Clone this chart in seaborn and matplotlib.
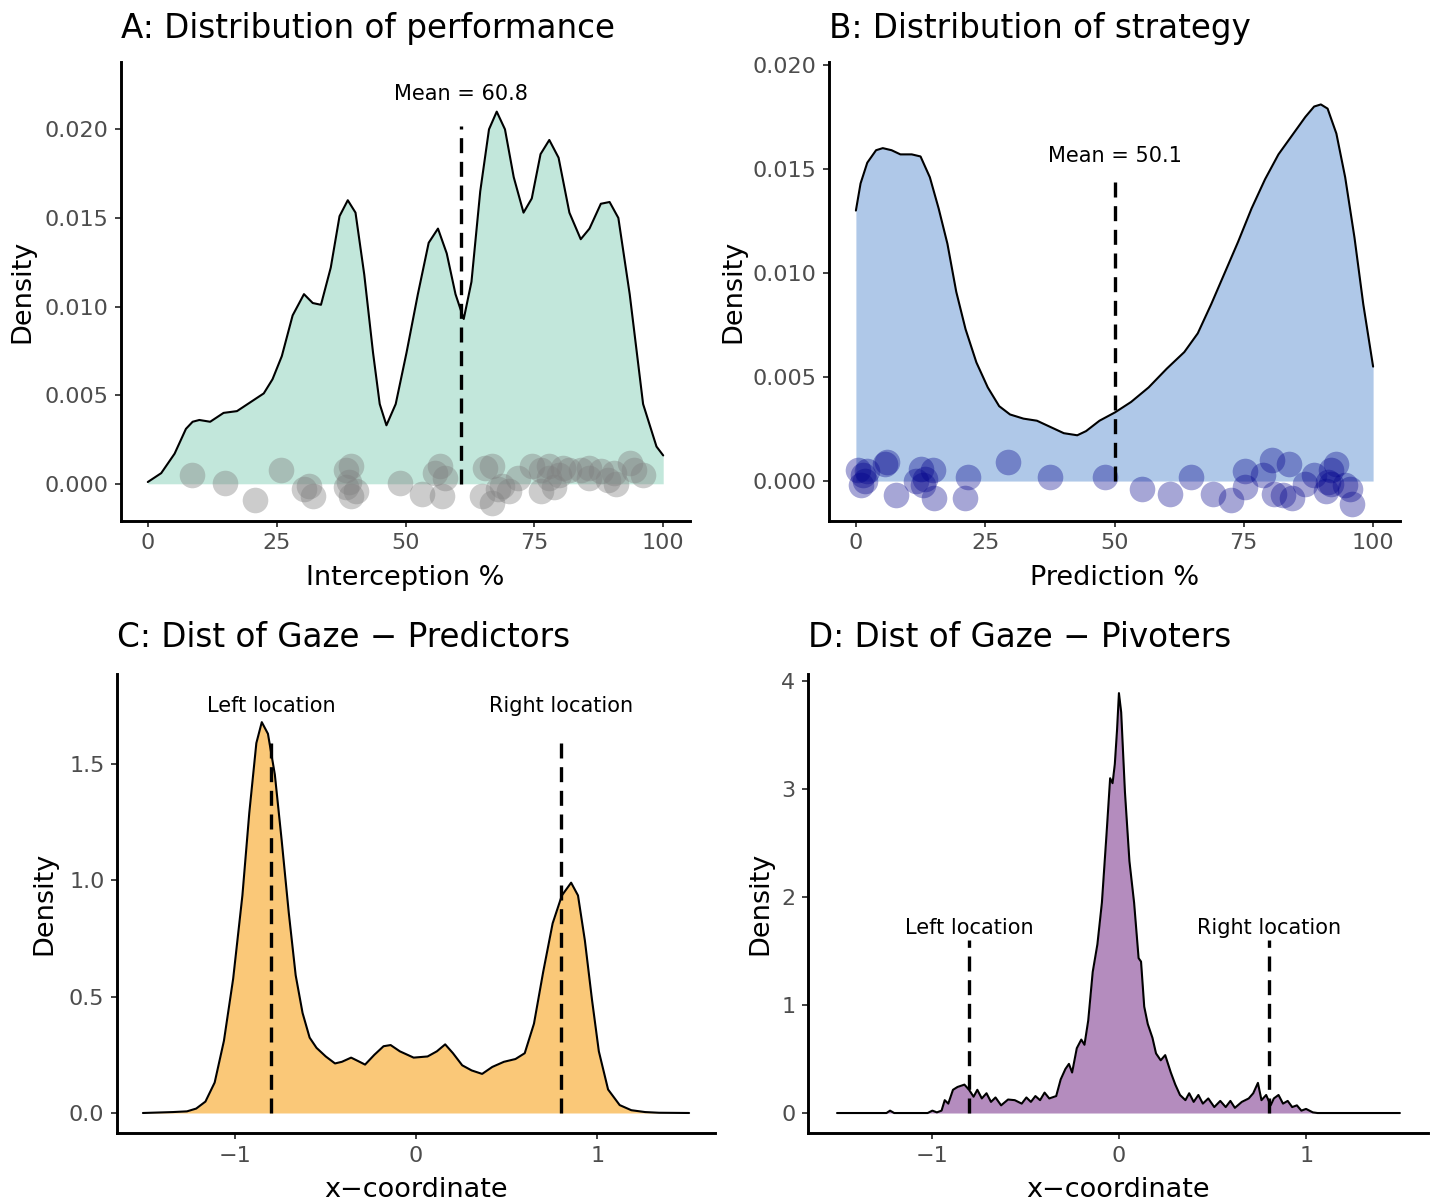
import numpy as np
import pandas as pd
import matplotlib
matplotlib.use("Agg")
import matplotlib.pyplot as plt
import seaborn as sns

# ---------------- Panel A: performance ----------------
perf_x = [0, 2.6, 5.2, 7.4, 8.7, 10, 12.1, 14.7, 17.3, 19.9, 22.5, 24.2, 26, 28.1, 30.3, 32,
          33.6, 35.5, 37.2, 38.8, 40.3, 42, 43.7, 45, 46.3, 48.1, 50.2, 52.4, 54.5, 56.3, 58,
          59.7, 61.3, 62.8, 64.5, 66.2, 67.7, 69.3, 71, 72.9, 74.5, 76.2, 77.9, 79.7, 81.8, 84,
          85.7, 87.9, 89.6, 91.3, 93.5, 96.1, 98.7, 100]
perf_density = [0.0001, 0.0006, 0.0017, 0.0031, 0.0035, 0.0036, 0.0035, 0.0040, 0.0041, 0.0046,
                0.0051, 0.0059, 0.0072, 0.0095, 0.0107, 0.0102, 0.0101, 0.0122, 0.0151, 0.0160,
                0.0153, 0.0118, 0.0074, 0.0045, 0.0033, 0.0045, 0.0074, 0.0107, 0.0136, 0.0144,
                0.0130, 0.0107, 0.0093, 0.0114, 0.0165, 0.0200, 0.0210, 0.0200, 0.0173, 0.0153,
                0.0161, 0.0186, 0.0194, 0.0184, 0.0153, 0.0138, 0.0144, 0.0158, 0.0159, 0.0150,
                0.0107, 0.0045, 0.0021, 0.0016]
perf_pts_x = [8.5, 15, 20.8, 25.8, 30.3, 31.2, 32, 38.5, 39.4, 38.5, 39.4, 40.3, 39, 49, 53.2,
              56.7, 55.8, 57.1, 57.6, 64.9, 65.4, 66.7, 66.7, 67.9, 68.8, 70.1, 71.9, 74.5, 76.2,
              77.9, 76.2, 77.9, 78.8, 79.7, 81.8, 84, 85.7, 87.9, 89.2, 90.5, 90.9, 93.5, 94.4,
              96.1, 85.7, 80.6]
perf_pts_y = [0.0005, 0.00004, -0.0009, 0.0008, -0.0003, -0.0001, -0.0007, 0.0008, 0.0010, -0.0002,
              -0.0007, -0.0004, 0.0001, 0.00004, -0.0006, 0.0010, 0.0006, -0.0007, 0.0003, -0.0007,
              0.0009, 0.0010, -0.0011, -0.0003, -0.0001, -0.0004, 0.0003, 0.0010, 0.0008, 0.0010,
              -0.0004, 0.0003, -0.0002, 0.0005, 0.0008, 0.0008, 0.0003, 0.0007, 0.0002, 0.0006,
              0.0, 0.0012, 0.0008, 0.0005, 0.0009, 0.0009]
perf_mean = 60.8
perf_xticks = [0, 25, 50, 75, 100]
perf_yticks = [0.000, 0.005, 0.010, 0.015, 0.020]

# ---------------- Panel B: strategy ----------------
strat_x = [0, 0.9, 2.2, 3.9, 5.2, 6.9, 8.6, 10.8, 12.5, 14.3, 16, 17.7, 19.4, 21.2, 23.3, 25.5,
           27.7, 29.8, 32.4, 35, 37.6, 40.2, 42.8, 44.5, 47.1, 50.1, 53.2, 56.6, 60.1, 63.5, 66.1,
           68.7, 71.3, 73.9, 76.5, 79.1, 81.7, 84.3, 86.9, 88.6, 89.9, 91.2, 92.9, 94.6, 96.4,
           98.1, 100]
strat_density = [0.0130, 0.0143, 0.0153, 0.0159, 0.0160, 0.0159, 0.0157, 0.0157, 0.0156, 0.0146,
                 0.0131, 0.0114, 0.0091, 0.0073, 0.0057, 0.0045, 0.0036, 0.0032, 0.0030, 0.0029,
                 0.0026, 0.0023, 0.0022, 0.0024, 0.0029, 0.0033, 0.0038, 0.0045, 0.0054, 0.0062,
                 0.0071, 0.0085, 0.0100, 0.0115, 0.0131, 0.0145, 0.0157, 0.0166, 0.0175, 0.0180,
                 0.0181, 0.0179, 0.0167, 0.0146, 0.0117, 0.0085, 0.0055]
strat_pts_x = [0.4, 1.3, 2.2, 0.9, 1.7, 5.6, 6.1, 7.8, 11.7, 12.5, 13.4, 15, 15.1, 13, 21, 21.6,
               29.4, 37.6, 48.1, 55.3, 60.8, 64.8, 69.1, 72.6, 75.2, 75.2, 78.7, 80.4, 80.8, 82.5,
               83.8, 84.3, 86.9, 88.6, 90.8, 91.2, 91.8, 92.9, 94.6, 95.5, 95.9, 91.8]
strat_pts_y = [0.00055, 0.0003, 0.00046, -0.0002, 0.0, 0.0008, 0.0009, -0.00065, 0.0, 0.0006,
               0.0001, 0.00055, -0.0008, -0.0002, -0.0008, 0.0002, 0.0009, 0.0002, 0.0002, -0.0004,
               -0.0006, 0.0002, -0.0006, -0.0009, 0.00046, -0.0003, 0.0003, 0.0010, -0.0006,
               -0.00065, 0.0008, -0.0008, -0.00015, 0.0003, -0.0005, -0.00005, 0.00055, 0.0008,
               -0.0002, -0.0004, -0.0011, -0.00015]
strat_mean = 50.1
strat_xticks = [0, 25, 50, 75, 100]
strat_yticks = [0.000, 0.005, 0.010, 0.015, 0.020]

# ---------------- Panel C: gaze, predictors ----------------
pred_x = [-1.507, -1.341, -1.264, -1.213, -1.162, -1.111, -1.06, -1.009, -0.958, -0.92, -0.881,
          -0.851, -0.817, -0.779, -0.741, -0.702, -0.664, -0.626, -0.587, -0.549, -0.498, -0.447,
          -0.409, -0.358, -0.319, -0.281, -0.23, -0.179, -0.14, -0.089, -0.013, 0.064, 0.115,
          0.161, 0.204, 0.255, 0.307, 0.365, 0.421, 0.485, 0.549, 0.6, 0.651, 0.702, 0.754,
          0.805, 0.856, 0.894, 0.932, 0.971, 1.009, 1.06, 1.124, 1.188, 1.264, 1.341, 1.507]
pred_density = [0.0, 0.004, 0.007, 0.019, 0.049, 0.131, 0.31, 0.577, 0.935, 1.29, 1.59, 1.68,
                1.63, 1.455, 1.17, 0.86, 0.592, 0.43, 0.324, 0.28, 0.243, 0.213, 0.22, 0.238,
                0.223, 0.208, 0.25, 0.287, 0.292, 0.265, 0.238, 0.243, 0.265, 0.295, 0.257, 0.205,
                0.183, 0.168, 0.198, 0.22, 0.232, 0.257, 0.384, 0.607, 0.815, 0.935, 0.99, 0.935,
                0.741, 0.488, 0.265, 0.101, 0.034, 0.012, 0.004, 0.001, 0.0]

# ---------------- Panel D: gaze, pivoters ----------------
piv_x = [-1.505, -1.241, -1.222, -1.2, -1.021, -0.996, -0.972, -0.947, -0.93, -0.911, -0.886,
         -0.862, -0.825, -0.8, -0.776, -0.756, -0.732, -0.707, -0.683, -0.659, -0.629, -0.592,
         -0.556, -0.519, -0.494, -0.47, -0.446, -0.421, -0.397, -0.372, -0.335, -0.311, -0.286,
         -0.267, -0.25, -0.225, -0.201, -0.184, -0.164, -0.14, -0.115, -0.091, -0.066, -0.047,
         -0.034, -0.022, -0.01, 0.0, 0.012, 0.032, 0.056, 0.081, 0.105, 0.118, 0.135, 0.154,
         0.179, 0.198, 0.223, 0.247, 0.277, 0.301, 0.326, 0.355, 0.375, 0.399, 0.424, 0.448,
         0.477, 0.509, 0.541, 0.57, 0.595, 0.619, 0.656, 0.693, 0.717, 0.742, 0.761, 0.786,
         0.81, 0.827, 0.852, 0.876, 0.901, 0.925, 0.95, 0.974, 0.999, 1.035, 1.06, 1.5]
piv_density = [0.0, 0.0, 0.022, 0.0, 0.0, 0.022, 0.006, 0.022, 0.119, 0.087, 0.215, 0.241, 0.263,
               0.215, 0.151, 0.215, 0.135, 0.183, 0.103, 0.144, 0.071, 0.125, 0.119, 0.087, 0.144,
               0.103, 0.157, 0.119, 0.189, 0.135, 0.157, 0.311, 0.407, 0.455, 0.375, 0.6, 0.68,
               0.632, 0.856, 1.306, 1.562, 1.947, 2.589, 3.1, 3.054, 3.23, 3.55, 3.888, 3.711,
               2.974, 2.332, 1.947, 1.434, 1.402, 0.985, 0.824, 0.696, 0.552, 0.488, 0.536, 0.375,
               0.263, 0.167, 0.119, 0.183, 0.103, 0.167, 0.087, 0.135, 0.055, 0.112, 0.055, 0.112,
               0.048, 0.103, 0.135, 0.183, 0.279, 0.119, 0.167, 0.071, 0.135, 0.167, 0.087, 0.112,
               0.055, 0.071, 0.022, 0.038, 0.006, 0.0, 0.0]

gaze_locations = [-0.8, 0.8]
gaze_labels = ["Left location", "Right location"]
gaze_xticks = [-1, 0, 1]
pred_yticks = [0.0, 0.5, 1.0, 1.5]
piv_yticks = [0, 1, 2, 3, 4]

# ---------------- styling ----------------
sns.set_theme(style="ticks")
plt.rcParams["font.family"] = ["DejaVu Sans"]
plt.rcParams["axes.unicode_minus"] = True
plt.rcParams["lines.solid_joinstyle"] = "round"

TITLE_FS = 23.5
LABEL_FS = 19.5
TICK_FS = 16
ANN_FS = 15
TICK_COLOR = "#4D4D4D"
DASH = (0, (4.5, 2.6))

fig = plt.figure(figsize=(14.35, 12.03), dpi=100, facecolor="white")
W, H = 1435.0, 1203.0


def make_ax(left, top, right, bottom):
    return fig.add_axes([left / W, 1 - bottom / H, (right - left) / W, (bottom - top) / H])


def style_ax(ax, title, xlabel, xticks, yticks, yfmt, xlim, ylim, ylab_x, title_pad):
    ax.set_xlim(*xlim)
    ax.set_ylim(*ylim)
    ax.set_xticks(xticks)
    ax.set_yticks(yticks)
    ax.set_yticklabels([yfmt.format(v) for v in yticks])
    ax.set_xticklabels([str(v).replace("-", "\u2212") for v in xticks])
    for side in ["top", "right"]:
        ax.spines[side].set_visible(False)
    for side in ["left", "bottom"]:
        ax.spines[side].set_linewidth(2.1)
        ax.spines[side].set_color("black")
    ax.tick_params(axis="both", length=4, width=1.3, color="#333333",
                   labelsize=TICK_FS, labelcolor=TICK_COLOR, pad=5)
    ax.set_xlabel(xlabel, fontsize=LABEL_FS, color="black")
    ax.set_ylabel("Density", fontsize=LABEL_FS, color="black")
    ax.xaxis.set_label_coords(0.5, -0.124)
    ax.xaxis.label.set_va("center")
    ax.yaxis.set_label_coords(ylab_x, 0.5)
    ax.yaxis.label.set_va("center")
    ax.set_title(title, loc="left", fontsize=TITLE_FS, color="black", pad=title_pad)
    ax.set_facecolor("white")


# ---- Panel A ----
axA = make_ax(121, 62, 690, 521)
axA.fill_between(perf_x, perf_density, 0, color="#C2E7DB", lw=0, zorder=1)
sns.lineplot(x=perf_x, y=perf_density, ax=axA, color="black", lw=1.5,
             estimator=None, sort=False, zorder=3)
sns.scatterplot(x=perf_pts_x, y=perf_pts_y, ax=axA, color="#808080", alpha=0.4,
                s=340, linewidth=0, zorder=4)
axA.vlines(perf_mean, 0, 0.0202, colors="black", lw=2.4, linestyles=DASH, zorder=5)
axA.text(perf_mean, 0.0220, f"Mean = {perf_mean}", ha="center", va="center",
         fontsize=ANN_FS, color="black", zorder=6)
style_ax(axA, "A: Distribution of performance", "Interception %", perf_xticks, perf_yticks,
         "{:.3f}", (-5.2, 105.2), (-0.0021, 0.0238), -0.174, 17)

# ---- Panel B ----
axB = make_ax(829, 62, 1400, 521)
axB.fill_between(strat_x, strat_density, 0, color="#AFC8E8", lw=0, zorder=1)
sns.lineplot(x=strat_x, y=strat_density, ax=axB, color="black", lw=1.5,
             estimator=None, sort=False, zorder=3)
sns.scatterplot(x=strat_pts_x, y=strat_pts_y, ax=axB, color="#00008B", alpha=0.35,
                s=340, linewidth=0, zorder=4)
axB.vlines(strat_mean, 0, 0.0147, colors="black", lw=2.4, linestyles=DASH, zorder=5)
axB.text(strat_mean, 0.0156, f"Mean = {strat_mean}", ha="center", va="center",
         fontsize=ANN_FS, color="black", zorder=6)
style_ax(axB, "B: Distribution of strategy", "Prediction %", strat_xticks, strat_yticks,
         "{:.3f}", (-5.2, 105.2), (-0.00192, 0.02014), -0.168, 17)

# ---- Panel C ----
axC = make_ax(117, 674, 715, 1133)
axC.fill_between(pred_x, pred_density, 0, color="#FAC878", lw=0, zorder=1)
sns.lineplot(x=pred_x, y=pred_density, ax=axC, color="black", lw=1.5,
             estimator=None, sort=False, zorder=3)
for loc, lab in zip(gaze_locations, gaze_labels):
    axC.vlines(loc, 0, 1.6, colors="black", lw=2.4, linestyles=DASH, zorder=5)
    axC.text(loc, 1.75, lab, ha="center", va="center", fontsize=ANN_FS, color="black", zorder=6)
style_ax(axC, "C: Dist of Gaze \u2212 Predictors", "x\u2212coordinate", gaze_xticks, pred_yticks,
         "{:.1f}", (-1.65, 1.65), (-0.086, 1.887), -0.122, 19.5)

# ---- Panel D ----
axD = make_ax(808, 674, 1428, 1133)
axD.fill_between(piv_x, piv_density, 0, color="#B48CBE", lw=0, zorder=1)
sns.lineplot(x=piv_x, y=piv_density, ax=axD, color="black", lw=1.5,
             estimator=None, sort=False, zorder=3)
for loc, lab in zip(gaze_locations, gaze_labels):
    axD.vlines(loc, 0, 1.6, colors="black", lw=2.4, linestyles=DASH, zorder=5)
    axD.text(loc, 1.71, lab, ha="center", va="center", fontsize=ANN_FS, color="black", zorder=6)
style_ax(axD, "D: Dist of Gaze \u2212 Pivoters", "x\u2212coordinate", gaze_xticks, piv_yticks,
         "{:.0f}", (-1.66, 1.65), (-0.185, 4.065), -0.077, 19.5)

fig.savefig("out.png", dpi=100, facecolor="white")
